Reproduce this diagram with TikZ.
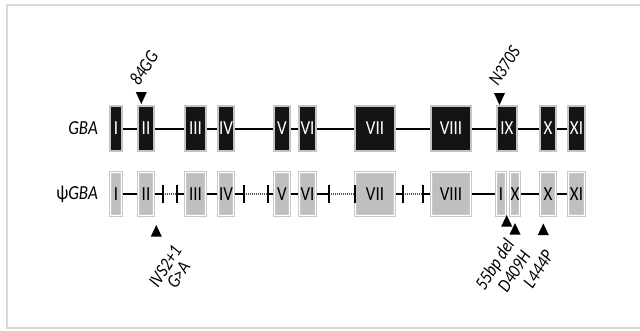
\documentclass[tikz,border=0pt]{standalone}
\usepackage{fontspec}
\setmainfont{Carlito}[FakeStretch=0.85]
\definecolor{framecol}{HTML}{D9D9D9}
\definecolor{gbord}{HTML}{C4C4C4}
\definecolor{gfill}{HTML}{141414}
\definecolor{pbord}{HTML}{C8C8C8}
\definecolor{pfill}{HTML}{BFBFBF}
\definecolor{dotcol}{HTML}{555555}
\newcommand{\exfont}{\fontsize{20}{22}\selectfont}
\newcommand{\mutfont}{\fontsize{19}{16}\selectfont\itshape}
\begin{document}
\begin{tikzpicture}[x=1bp,y=-1bp,
  gex/.style={draw=gbord, fill=gfill, line width=2.4bp, minimum height=44.6bp, inner sep=0pt, text=white, font=\exfont},
  pex/.style={draw=pbord, double=white, double distance=0.8bp, line width=1bp, outer sep=1.4bp, fill=pfill, minimum height=43.2bp, inner sep=0pt, text=black, font=\exfont},
  intron/.style={line width=2bp, black},
  dotl/.style={line width=1.2bp, dotcol, dash pattern=on 1bp off 1bp},
  tickmark/.style={line width=2bp, black},
  genelab/.style={font=\exfont, anchor=east, inner sep=0pt},
  mutup/.style={font=\mutfont, rotate=57, anchor=base west, inner sep=0pt},
  mutdn/.style={font=\mutfont, rotate=57, anchor=north east, inner sep=0pt, align=center}
]
\useasboundingbox (0,0) rectangle (640,330);
\draw[framecol, line width=2bp] (7,5) rectangle (660,328);

% gene labels
\node[genelab] (lg) at (98,128.5) {\itshape GBA};
\node[genelab] (lp) at (98,194) {ψ\itshape GBA};

% GBA exons
\foreach \n/\x/\w/\t in {1/116/14/I, 2/146/18/II, 3/195.5/23/III, 4/226/18/IV, 5/282/18/V, 6/307.5/19/VI, 7/375/42/VII, 8/451/42/VIII, 9/507/22/IX, 10/548/18/X, 11/576.5/19/XI}
  \node[gex, minimum width={\w bp-2.4bp}] (g\n) at (\x,128.5) {\t};
\foreach \a/\b in {1/2,2/3,3/4,4/5,5/6,6/7,7/8,8/9,9/10,10/11}
  \draw[intron] (g\a.east) -- (g\b.west);

% pseudogene exons
\foreach \n/\x/\w/\t in {1/116/14/I, 2/146/18/II, 3/195.5/23/III, 4/226/18/IV, 5/282/18/V, 6/307.5/19/VI, 7/375/42/VII, 8/451/42/VIII, 9/501/12/I, 10/548/18/X, 11/576.5/19/XI}
  \node[pex, minimum width={\w bp-2.8bp}] (p\n) at (\x,194) {\t};
\node[pex, minimum width={12bp-2.8bp}] (q9) at (515,194) {X};

\coordinate (t1) at (163,194);
\coordinate (t2) at (177,194);
\coordinate (t3) at (244,194);
\coordinate (t4) at (268,194);
\coordinate (t5) at (329,194);
\coordinate (t6) at (355,194);
\coordinate (t7) at (403,194);
\coordinate (t8) at (423,194);

\draw[intron] (p1.east) -- (p2.west);
\draw[intron] (p2.east) -- (t1);
\draw[dotl] (t1) -- (t2);
\draw[intron] (t2) -- (p3.west);
\draw[intron] (p3.east) -- (p4.west);
\draw[intron] (p4.east) -- (t3);
\draw[dotl] (t3) -- (t4);
\draw[intron] (t4) -- (p5.west);
\draw[intron] (p5.east) -- (p6.west);
\draw[intron] (p6.east) -- (t5);
\draw[dotl] (t5) -- (t6);
\draw[intron] (p7.east) -- (t7);
\draw[dotl] (t7) -- (t8);
\draw[intron] (t8) -- (p8.west);
\draw[intron] (p8.east) -- (p9.west);
\draw[intron] (q9.east) -- (p10.west);
\draw[intron] (p10.east) -- (p11.west);
\foreach \t in {t1,t2,t3,t4,t5,t6,t7,t8}
  \draw[tickmark] ([shift={(0,-9)}]\t) -- ([shift={(0,9)}]\t);

% mutation markers (tips)
\coordinate (m1) at (141.3,104);
\coordinate (m2) at (499.5,105);
\coordinate (u1) at (156.3,225);
\coordinate (u2) at (506.7,215);
\coordinate (u3) at (515,223);
\coordinate (u4) at (543.3,223.5);
\foreach \m in {m1,m2}
  \fill[black] ([shift={(-5.5,-12)}]\m) -- ([shift={(5.5,-12)}]\m) -- (\m) -- cycle;
\foreach \m in {u1,u2,u3,u4}
  \fill[black] ([shift={(-5.5,11.5)}]\m) -- ([shift={(5.5,11.5)}]\m) -- (\m) -- cycle;

% mutation labels
\node[mutup] (l84) at (139,87) {84GG};
\node[mutup] (lN) at (498,87) {N370S};
\node[mutdn] (lIVS) at (172,244) {IVS2+1\\G>A};
\node[mutdn] (l55) at (504,237) {55bp del};
\node[mutdn] (lD) at (521,249) {D409H};
\node[mutdn] (lL) at (544,249) {L444P};
\end{tikzpicture}
\end{document}
